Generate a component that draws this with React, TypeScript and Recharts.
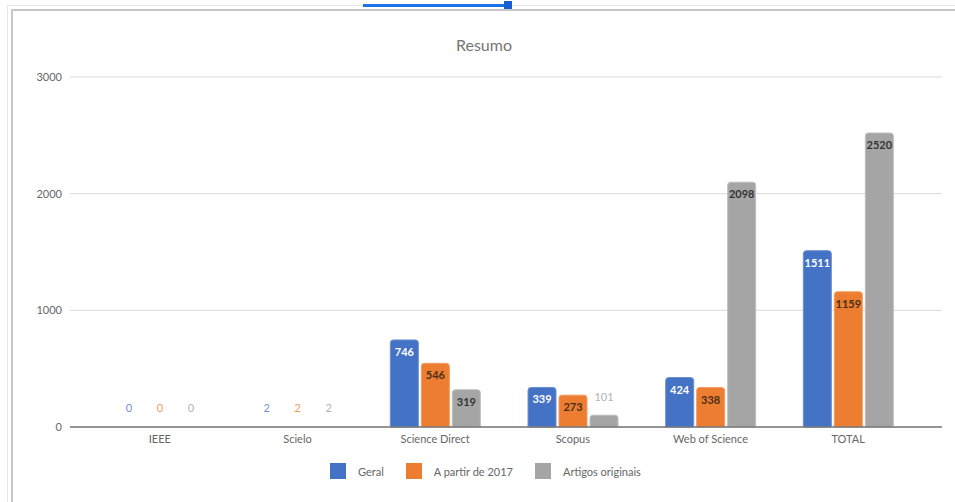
import React from 'react';
import { BarChart, Bar, XAxis, YAxis, CartesianGrid, LabelList, ReferenceLine, Rectangle } from 'recharts';

const categorias = ['IEEE', 'Scielo', 'Science Direct', 'Scopus', 'Web of Science', 'TOTAL'];
const geral = [0, 2, 746, 339, 424, 1511];
const aPartir2017 = [0, 2, 546, 273, 338, 1159];
const artigosOriginais = [0, 2, 319, 101, 2098, 2520];
const yTicks = [0, 1000, 2000, 3000];

const SERIES = [
  { key: 'geral', name: 'Geral', color: '#4472C4', stroke: '#6d8fd3', inside: '#ffffff', outside: '#6f92d6' },
  { key: 'aPartir2017', name: 'A partir de 2017', color: '#ED7D31', stroke: '#f29c62', inside: '#4a2f17', outside: '#f09a5e' },
  { key: 'artigosOriginais', name: 'Artigos originais', color: '#A5A5A5', stroke: '#bdbdbd', inside: '#333333', outside: '#b3b3b3' }
];

const data = categorias.map((name, i) => ({
  name,
  geral: geral[i],
  aPartir2017: aPartir2017[i],
  artigosOriginais: artigosOriginais[i]
}));

const FONT = 'Lato, "Open Sans", sans-serif';

// Rótulo: dentro da barra quando cabe, acima dela quando é pequena
const makeLabel = (inside: string, outside: string) => (props: any) => {
  const { x, y, width, height, value } = props;
  const small = Math.abs(height) < 20;
  const top = Math.min(y, y + height);
  return (
    <text
      x={x + width / 2}
      y={small ? top - 14 : top + 16}
      textAnchor="middle"
      fontSize={11}
      fontFamily={FONT}
      fontWeight={small ? 400 : 700}
      fill={small ? outside : inside}
    >
      {value}
    </text>
  );
};

// barras quase nulas não aparecem no original
const barShape = (props: any) => {
  if (Math.abs(props.height) < 3) return <g />;
  return <Rectangle {...props} />;
};

export default function App() {
  return (
    <div style={{ position: 'fixed', left: 0, top: 0, width: 955, height: 502, background: '#fff', overflow: 'hidden', fontFamily: FONT }}>
      {/* moldura da planilha */}
      <div style={{ position: 'absolute', left: 8, top: 5, width: 947, height: 1, background: '#e6e6e6' }} />
      <div style={{ position: 'absolute', left: 7, top: 5, width: 1, height: 497, background: '#e6e6e6' }} />
      <div style={{ position: 'absolute', left: 11, top: 9, width: 944, height: 2, background: '#c6c6c6' }} />
      <div style={{ position: 'absolute', left: 11, top: 9, width: 2, height: 493, background: '#c6c6c6' }} />
      <div style={{ position: 'absolute', left: 363, top: 4, width: 142, height: 3, background: '#1a73e8' }} />
      <div style={{ position: 'absolute', left: 504, top: 1, width: 8, height: 8, background: '#1a5fd1' }} />

      <div style={{ position: 'absolute', left: 0, top: 35, width: 968, textAlign: 'center', fontSize: 16, color: '#757575' }}>
        Resumo
      </div>

      <div style={{ position: 'absolute', left: 0, top: 0 }}>
        <BarChart
          width={955}
          height={502}
          data={data}
          margin={{ top: 77, right: 13, left: 0, bottom: 45 }}
          barCategoryGap={24}
          barGap={3}
        >
          <CartesianGrid vertical={false} stroke="#d9d9d9" />
          <XAxis
            dataKey="name"
            axisLine={false}
            tickLine={false}
            height={30}
            padding={{ left: 21, right: 25 }}
            tick={{ fontSize: 11, fill: '#666', fontFamily: FONT }}
            interval={0}
          />
          <YAxis
            width={70}
            domain={[0, 3000]}
            ticks={yTicks}
            axisLine={false}
            tickLine={false}
            tick={{ fontSize: 11, fill: '#666', fontFamily: FONT }}
          />
          {SERIES.map(s => (
            <Bar
              key={s.key}
              dataKey={s.key}
              name={s.name}
              fill={s.color}
              stroke={s.stroke}
              strokeWidth={1}
              radius={[3, 3, 0, 0]}
              minPointSize={1}
              shape={barShape}
              isAnimationActive={false}
            >
              <LabelList dataKey={s.key} content={makeLabel(s.inside, s.outside)} />
            </Bar>
          ))}
          <ReferenceLine y={0} stroke="#777" strokeWidth={1.5} />
        </BarChart>
      </div>

      {/* legenda */}
      <div style={{ position: 'absolute', left: 330, top: 463, display: 'flex', alignItems: 'center', fontSize: 11, color: '#666' }}>
        {SERIES.map((s, i) => (
          <div key={s.key} style={{ display: 'flex', alignItems: 'center', marginRight: i < SERIES.length - 1 ? 22 : 0 }}>
            <div style={{ width: 16, height: 16, background: s.color, marginRight: 12 }} />
            <span>{s.name}</span>
          </div>
        ))}
      </div>
    </div>
  );
}
